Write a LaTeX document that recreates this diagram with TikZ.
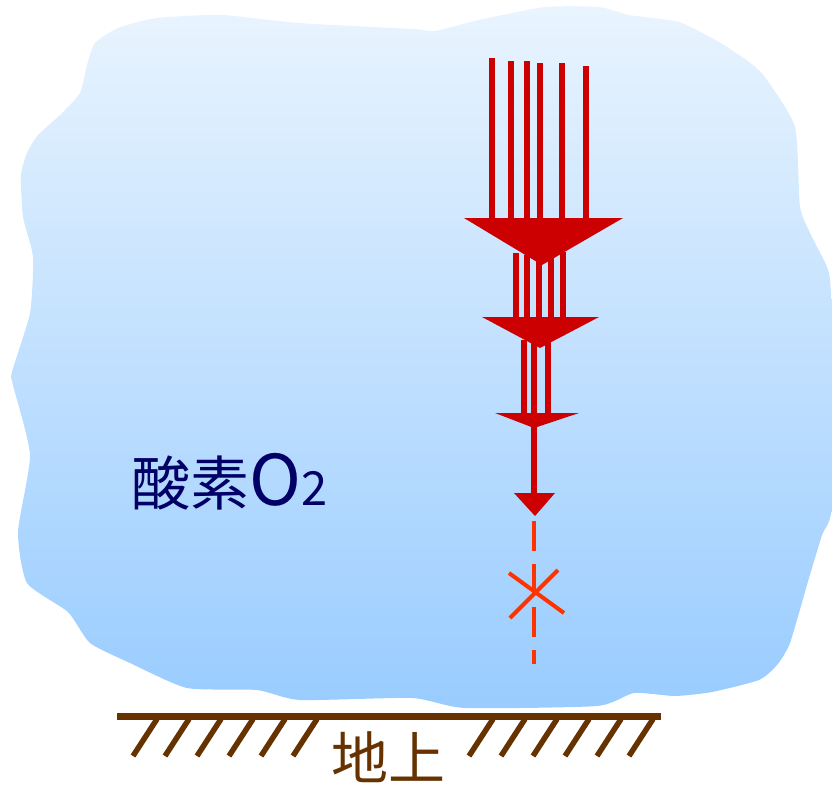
\documentclass[tikz,border=0pt]{standalone}
\usepackage{fontspec}
\newfontfamily\jpfont{Noto Sans CJK JP}

\definecolor{airtop}{HTML}{E9F4FE}
\definecolor{airbottom}{HTML}{99CCFF}
\definecolor{rayred}{HTML}{CC0000}
\definecolor{lostred}{HTML}{FF3300}
\definecolor{soil}{HTML}{663300}
\definecolor{gasblue}{HTML}{000066}

\tikzset{
    ray/.style={rayred, line width=6pt},
    rayhead/.style={fill=rayred},
    lost/.style={lostred, line width=4pt, dash pattern=on 30pt off 13pt},
    groundline/.style={soil, line width=7pt},
    hatch/.style={soil, line width=5.5pt}
}

\begin{document}
\begin{tikzpicture}[x=1pt, y=-1pt]
    \useasboundingbox (0,0) rectangle (832,785);

    % the air layer
    \shade[top color=airtop, bottom color=airbottom]
        plot[smooth cycle, tension=0.35] coordinates {
            (222,15) (298,23) (412,29) (435,31) (479,20) (545,7) (599,7)
            (629,15) (679,22) (719,42) (749,62) (765,77) (795,127) (800,207)
            (812,237) (829,273) (832,330) (832,505) (822,535) (809,578)
            (790,643) (777,665) (759,680) (712,692) (675,696) (634,693)
            (597,706) (465,708) (412,698) (300,700) (257,690) (187,688)
            (130,663) (90,643) (68,612) (27,583) (18,532) (30,455) (13,385)
            (12,372) (30,313) (33,257) (23,217) (21,175) (27,153) (38,135)
            (60,115) (80,93) (87,65) (95,43) (118,28) (157,18)};

    % rays, first stage
    \foreach \x/\y in {492/58, 511/61, 527/61, 540/63, 562/63, 586/66}
        \draw[ray] (\x,\y) -- (\x,219);
    \fill[rayhead] (464,218) -- (623,218) -- (542,265) -- cycle;

    % second stage
    \foreach \x/\y in {516/253, 527/255, 539/255, 551/255, 563/252}
        \draw[ray] (\x,\y) -- (\x,318);
    \fill[rayhead] (482,317) -- (599,317) -- (540,348) -- cycle;

    % third stage
    \foreach \x in {524, 534, 548}
        \draw[ray] (\x,340) -- (\x,414);
    \fill[rayhead] (495,413) -- (579,413) -- (534,428) -- cycle;

    % last stage
    \draw[ray] (534,426) -- (534,494);
    \fill[rayhead] (514,493) -- (555,493) -- (535,516) -- cycle;

    % does not reach the ground
    \draw[lost] (534,521) -- (534,664);
    \draw[lostred, line width=4pt] (509,573) -- (564,613);
    \draw[lostred, line width=4pt] (558,570) -- (510,618);

    \node[gasblue, anchor=base west, inner sep=0pt] (oxygen) at (131,505)
        {\jpfont\fontsize{59}{59}\selectfont 酸素\fontsize{70}{70}\selectfont O\fontsize{47}{47}\selectfont 2};

    % ground
    \draw[groundline] (117,716.5) -- (661,716.5);
    \foreach \x in {133,165,...,293}
        \draw[hatch] (\x,756) -- ++(24,-37);
    \foreach \x in {469,501,...,629}
        \draw[hatch] (\x,756) -- ++(24,-37);

    \node[soil, inner sep=0pt] (ground) at (388,757)
        {\jpfont\fontsize{57}{57}\selectfont 地上};
\end{tikzpicture}
\end{document}
